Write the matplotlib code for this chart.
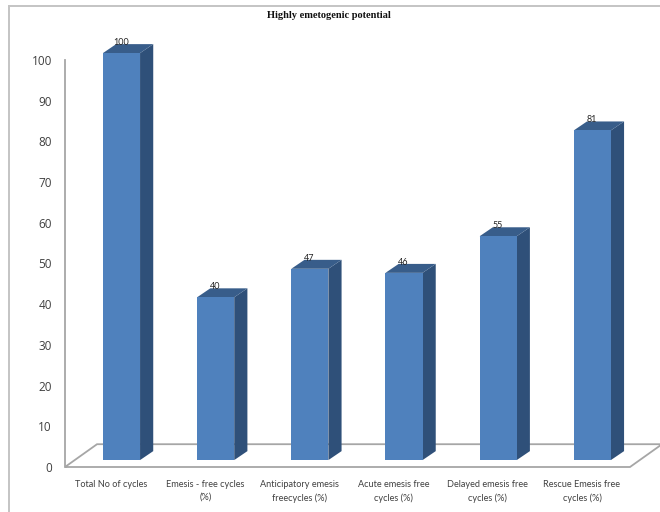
import matplotlib
matplotlib.use("Agg")
import matplotlib.pyplot as plt
from matplotlib.lines import Line2D
from matplotlib.patches import Polygon

categories = [
    "Total No of cycles",
    "Emesis - free cycles\n(%)",
    "Anticipatory emesis\nfreecycles (%)",
    "Acute emesis free\ncycles (%)",
    "Delayed emesis free\ncycles (%)",
    "Rescue Emesis free\ncycles (%)",
]
values = [100, 40, 47, 46, 55, 81]
y_ticks = list(range(0, 101, 10))

W, H = 660, 512
GRAY = "#a6a6a6"
FRONT = "#4f81bd"
TOP = "#385d8a"
SIDE = "#2f5079"

fig = plt.figure(figsize=(W / 100, H / 100), dpi=100)
ax = fig.add_axes([65 / W, 1 - 467 / H, 565 / W, 407 / H])
ax.set_xlim(-0.6, 5.4)
ax.set_ylim(0, 100)

# Oblique projection used for the pseudo-3D bars and floor
half = 0.197
depth_x = 0.14
depth_y = 2.2
lift = 1.7
floor_dx = 0.34
floor_dy = 5.6

# Floor
ax.add_patch(Polygon(
    [(-0.6, 0), (5.4, 0), (5.4 + floor_dx, floor_dy), (-0.6 + floor_dx, floor_dy)],
    closed=True, fill=False, edgecolor=GRAY, linewidth=1.3, clip_on=False, zorder=1,
))

# Bars
for i, v in enumerate(values):
    x0, x1 = i - half, i + half
    y0, y1 = lift, lift + v
    ax.add_patch(Polygon([(x1, y0), (x1 + depth_x, y0 + depth_y),
                          (x1 + depth_x, y1 + depth_y), (x1, y1)],
                         closed=True, facecolor=SIDE, edgecolor="none", zorder=3, clip_on=False))
    ax.add_patch(Polygon([(x0, y1), (x1, y1), (x1 + depth_x, y1 + depth_y),
                          (x0 + depth_x, y1 + depth_y)],
                         closed=True, facecolor=TOP, edgecolor="none", zorder=3, clip_on=False))
    ax.add_patch(Polygon([(x0, y0), (x1, y0), (x1, y1), (x0, y1)],
                         closed=True, facecolor=FRONT, edgecolor="none", zorder=4, clip_on=False))
    ax.annotate(str(v), (i, y1 + depth_y), xytext=(-0.5, -2), textcoords="offset points",
                ha="center", va="bottom", fontsize=6.5, color="#262626",
                family="Lato", zorder=5, annotation_clip=False)

# Axes styling
for side in ("top", "right", "bottom"):
    ax.spines[side].set_visible(False)
ax.spines["left"].set_color(GRAY)
ax.spines["left"].set_linewidth(1.3)
ax.set_yticks(y_ticks)
ax.set_xticks([i - 0.11 for i in range(len(categories))])
ax.set_xticklabels(categories, fontsize=6.6, family="Lato", color="#404040", linespacing=1.5)
ax.tick_params(axis="x", length=0, pad=9.5)
ax.tick_params(axis="y", length=0, pad=9.5, labelsize=8.5, labelcolor="#404040")
for lab in ax.get_yticklabels():
    lab.set_family("Open Sans")

# Title
fig.text(329 / W, 1 - 15 / H, "Highly emetogenic potential", ha="center", va="center",
         fontsize=7.5, fontweight="bold", family="Liberation Serif", color="#111111")

# Outer frame around the chart area
frame = dict(color="#c4c4c4", linewidth=1.4, transform=fig.transFigure)
fig.add_artist(Line2D([9 / W, 9 / W], [0, 1 - 6 / H], **frame))
fig.add_artist(Line2D([9 / W, 1], [1 - 6 / H, 1 - 6 / H], **frame))

fig.savefig("out.png", dpi=100)
